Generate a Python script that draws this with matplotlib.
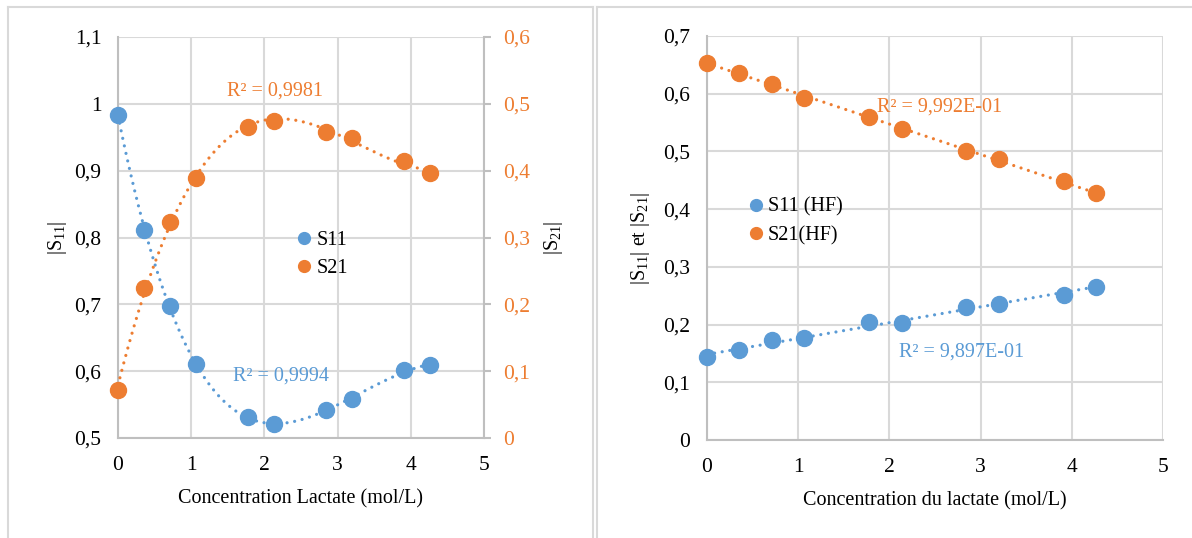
import numpy as np
import matplotlib
matplotlib.use("Agg")
from matplotlib import pyplot as plt
from matplotlib.lines import Line2D

# concentration du lactate (mol/L)
conc = [0, 0.356, 0.711, 1.067, 1.778, 2.133, 2.844, 3.2, 3.911, 4.267]

# left chart : |S11| (left axis) and |S21| (right axis)
s11 = [0.984, 0.811, 0.697, 0.610, 0.531, 0.521, 0.542, 0.558, 0.602, 0.609]
s21 = [0.072, 0.224, 0.323, 0.389, 0.465, 0.475, 0.458, 0.449, 0.415, 0.396]

# right chart : HF
s11_hf = [0.143, 0.156, 0.173, 0.177, 0.205, 0.203, 0.230, 0.236, 0.252, 0.265]
s21_hf = [0.654, 0.636, 0.617, 0.592, 0.560, 0.538, 0.500, 0.487, 0.448, 0.428]

BLUE = "#5B9BD5"
ORANGE = "#ED7D31"
GRID = "#D9D9D9"
AXC = "#BFBFBF"
FS = 14.5     # titles, legend, R2
FT = 15.5     # tick labels

plt.rcParams["font.family"] = ["Liberation Serif", "DejaVu Serif"]
plt.rcParams["mathtext.fontset"] = "custom"
plt.rcParams["mathtext.rm"] = "Liberation Serif"
plt.rcParams["mathtext.it"] = "Liberation Serif"

fig = plt.figure(figsize=(11.92, 5.38), dpi=100)

# panel frames (Excel chart areas)
for xs, ys in [([8, 8], [0, 531]), ([8, 593], [531, 531]), ([593, 593], [0, 531]),
               ([597, 597], [0, 531]), ([597, 1192], [531, 531])]:
    fig.add_artist(Line2D(np.array(xs) / 1192, np.array(ys) / 538, color=GRID, lw=1.5))


def trend(ax, x, y, deg, color):
    p = np.polyfit(x, y, deg)
    xx = np.linspace(min(x), max(x), 300)
    ax.plot(xx, np.polyval(p, xx), color=color, lw=2.3, linestyle=(0, (0.01, 2.4)),
            dash_capstyle="round", zorder=2)


def style(ax):
    ax.grid(True, color=GRID, lw=1.5)
    ax.set_axisbelow(True)
    for s in ["top", "right"]:
        ax.spines[s].set_visible(False)
    for s in ["left", "bottom"]:
        ax.spines[s].set_color(AXC)
        ax.spines[s].set_linewidth(1.5)
    ax.tick_params(length=0, labelsize=FT)
    ax.tick_params(axis="x", pad=13)
    ax.tick_params(axis="y", pad=12)
    ax.set_xlim(0, 5)
    ax.set_xticks(range(6))


def comma(v, dec=1):
    if abs(v - round(v)) < 1e-9:
        return str(int(round(v)))
    return f"{v:.{dec}f}".replace(".", ",")


# ---- left chart
ax1 = fig.add_axes([118 / 1192, 1 - 438 / 538, 366 / 1192, 401 / 538])
style(ax1)
ax1.set_ylim(0.5, 1.1)
yt = np.arange(0.5, 1.1001, 0.1)
ax1.set_yticks(yt)
ax1.set_yticklabels([comma(v) for v in yt])
ax2 = ax1.twinx()
ax2.set_ylim(0, 0.6)
yt2 = np.arange(0, 0.6001, 0.1)
ax2.set_yticks(yt2)
ax2.set_yticklabels([comma(v) for v in yt2])
for s in ["top", "left", "bottom"]:
    ax2.spines[s].set_visible(False)
ax2.spines["right"].set_color(AXC)
ax2.spines["right"].set_linewidth(1.5)
ax2.tick_params(axis="y", length=5, width=1.5, color=AXC, labelsize=FT,
                labelcolor=ORANGE, pad=9)

trend(ax1, conc, s11, 4, BLUE)
trend(ax2, conc, s21, 3, ORANGE)
ax1.plot(conc, s11, "o", color=BLUE, ms=11.5, zorder=3, clip_on=False)
ax2.plot(conc, s21, "o", color=ORANGE, ms=11.5, zorder=3, clip_on=False)

ax1.set_xlabel("Concentration Lactate (mol/L)", fontsize=FS, labelpad=10)
ax1.set_ylabel("|S$_{11}$|", fontsize=FS, labelpad=4)
ax2.set_ylabel("|S$_{21}$|", fontsize=FS, labelpad=8, rotation=90)
ax1.text(2.15, 1.019, "R² = 0,9981", color=ORANGE, fontsize=FS, ha="center", va="center")
ax1.text(2.23, 0.593, "R² = 0,9994", color=BLUE, fontsize=FS, ha="center", va="center")

h = [Line2D([], [], ls="", marker="o", ms=8.5, color=BLUE),
     Line2D([], [], ls="", marker="o", ms=8.5, color=ORANGE)]
ax1.legend(h, ["S11", "S21"], loc="center left", bbox_to_anchor=(0.426, 0.458),
           frameon=False, fontsize=FS, handletextpad=0.0, labelspacing=0.45,
           handlelength=1.2)

# ---- right chart
ax3 = fig.add_axes([707 / 1192, 1 - 440 / 538, 456 / 1192, 404 / 538])
style(ax3)
ax3.set_ylim(0, 0.7)
yt3 = np.arange(0, 0.7001, 0.1)
ax3.set_yticks(yt3)
ax3.set_yticklabels([comma(v) for v in yt3])

trend(ax3, conc, s11_hf, 1, BLUE)
trend(ax3, conc, s21_hf, 1, ORANGE)
ax3.plot(conc, s11_hf, "o", color=BLUE, ms=11.5, zorder=3, clip_on=False)
ax3.plot(conc, s21_hf, "o", color=ORANGE, ms=11.5, zorder=3, clip_on=False)

ax3.set_xlabel("Concentration du lactate (mol/L)", fontsize=FS, labelpad=10)
ax3.set_ylabel("|S$_{11}$| et |S$_{21}$|", fontsize=FS, labelpad=8)
ax3.text(2.55, 0.577, "R² = 9,992E-01", color=ORANGE, fontsize=FS, ha="center", va="center")
ax3.text(2.79, 0.152, "R² = 9,897E-01", color=BLUE, fontsize=FS, ha="center", va="center")

ax3.legend(h, ["S11 (HF)", "S21(HF)"], loc="center left", bbox_to_anchor=(0.041, 0.541),
           frameon=False, fontsize=FS, handletextpad=0.0, labelspacing=0.45,
           handlelength=1.2)

fig.savefig("out.png", dpi=100)
